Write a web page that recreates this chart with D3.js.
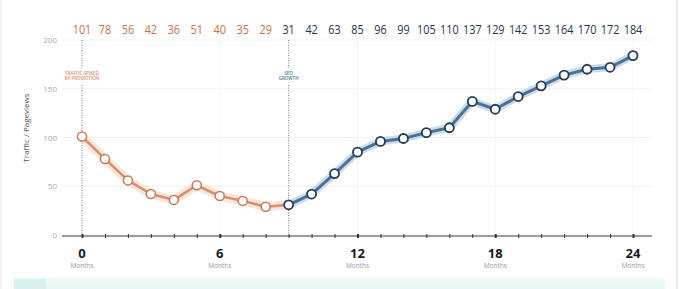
<!DOCTYPE html>
<html>
<head>
<meta charset="utf-8">
<script src="https://cdnjs.cloudflare.com/ajax/libs/d3/7.8.5/d3.min.js"></script>
<style>
  body { margin: 0; background: #fff; }
  svg { display: block; font-family: "Open Sans", "Noto Sans", sans-serif; }
</style>
</head>
<body>
<div id="chart"></div>
<script>
var width = 679,
    height = 289;

// data
var months = d3.range(0, 25);
var traffic = [101, 78, 56, 42, 36, 51, 40, 35, 29, 31, 42, 63, 85, 96, 99, 105, 110, 137, 129, 142, 153, 164, 170, 172, 184];
var splitIndex = 9;
var yTicks = [0, 50, 100, 150, 200];
var xTicks = [0, 6, 12, 18, 24];
var notes = [
    {month: 0, lines: ["TRAFFIC SPIKED", "BY PROMOTION"], color: "#d89070"},
    {month: 9, lines: ["SEO", "GROWTH"], color: "#4a7288"}
];

var orange = "#d3906e",
    orangeDark = "#c47a58",
    blue = "#4f7090",
    navy = "#213c58";

var svg = d3.select("#chart").append("svg")
    .attr("width", width)
    .attr("height", height);

var x = d3.scaleLinear().domain([0, 24]).range([82, 633]);
var y = d3.scaleLinear().domain([0, 200]).range([235, 40]);

// card edges + bottom strip
svg.append("line").attr("x1", 677).attr("x2", 677).attr("y1", 0).attr("y2", height)
    .style("stroke", "#e6e6e6").style("stroke-width", 1.5);
svg.append("line").attr("x1", 1).attr("x2", 1).attr("y1", 0).attr("y2", height)
    .style("stroke", "#f0f0f0").style("stroke-width", 1.5);
var grad = svg.append("defs").append("linearGradient").attr("id", "strip")
    .attr("x1", 0).attr("x2", 0).attr("y1", 0).attr("y2", 1);
grad.append("stop").attr("offset", 0).attr("stop-color", "#f4fcfb");
grad.append("stop").attr("offset", 1).attr("stop-color", "#e3f7f4");
svg.append("rect").attr("x", 14).attr("y", 277).attr("width", 651).attr("height", 12)
    .attr("fill", "url(#strip)");
svg.append("rect").attr("x", 14).attr("y", 279).attr("width", 32).attr("height", 10)
    .attr("fill", "#d9f1ee");

// grid
svg.selectAll(".hgrid").data(yTicks.filter(function(d) { return d > 0; }))
    .enter().append("line")
    .attr("x1", 62).attr("x2", 652)
    .attr("y1", function(d) { return y(d); }).attr("y2", function(d) { return y(d); })
    .style("stroke", "#f0f2f2").style("stroke-width", 1);
svg.selectAll(".vgrid").data(xTicks.filter(function(d) { return d > 0; }))
    .enter().append("line")
    .attr("x1", function(d) { return x(d); }).attr("x2", function(d) { return x(d); })
    .attr("y1", 40).attr("y2", 235)
    .style("stroke", "#f2f4f4").style("stroke-width", 1);

// y tick labels
svg.selectAll(".ylab").data(yTicks)
    .enter().append("text")
    .attr("x", 57).attr("y", function(d) { return y(d) + 3; })
    .attr("text-anchor", "end")
    .style("font-size", "8px").style("fill", "#a9a9a9")
    .text(function(d) { return d; });

svg.append("text")
    .attr("transform", "translate(29," + 128 + ") rotate(-90)")
    .attr("text-anchor", "middle")
    .style("font-size", "8px").style("fill", "#555")
    .text("Traffic / Pageviews");

// annotation dotted lines
notes.forEach(function(n) {
    var cx = x(n.month);
    svg.append("line").attr("x1", cx).attr("x2", cx).attr("y1", 40).attr("y2", 68)
        .style("stroke", "#555").style("stroke-width", 0.8).style("stroke-dasharray", "1,1.5");
    svg.append("line").attr("x1", cx).attr("x2", cx).attr("y1", 85).attr("y2", 236)
        .style("stroke", "#555").style("stroke-width", 0.8).style("stroke-dasharray", "1,1.5");
    n.lines.forEach(function(t, i) {
        svg.append("text").attr("x", cx).attr("y", 75 + i * 5)
            .attr("text-anchor", "middle")
            .style("font-size", "4.5px").style("font-weight", "600")
            .style("fill", n.color)
            .text(t);
    });
});

// x axis
var xAxis = d3.axisBottom(x).tickValues(months).tickSize(3).tickFormat("");
var gx = svg.append("g").attr("transform", "translate(0,236)").call(xAxis);
gx.select(".domain").remove();
gx.selectAll(".tick line").attr("y1", -2).attr("y2", 2)
    .style("stroke", "#333")
    .style("stroke-width", function(d) { return d % 6 === 0 ? 2 : 1; });
svg.insert("line", "g").attr("x1", 62).attr("x2", 652).attr("y1", 236).attr("y2", 236)
    .style("stroke", "#7a7a7a").style("stroke-width", 1.5);

svg.selectAll(".xlab").data(xTicks)
    .enter().append("text")
    .attr("x", function(d) { return x(d); }).attr("y", 258)
    .attr("text-anchor", "middle")
    .style("font-size", "13px").style("font-weight", "bold").style("fill", "#1a1a1a")
    .text(function(d) { return d; });
svg.selectAll(".xsub").data(xTicks)
    .enter().append("text")
    .attr("x", function(d) { return x(d); }).attr("y", 268)
    .attr("text-anchor", "middle")
    .style("font-size", "6.5px").style("fill", "#999")
    .text("Months");

// lines
var line = d3.line()
    .x(function(d) { return x(d.m); })
    .y(function(d) { return y(d.v); });
var pts = traffic.map(function(v, i) { return {m: i, v: v}; });
var first = pts.slice(0, splitIndex + 1),
    second = pts.slice(splitIndex);

svg.append("path").datum(first).attr("d", line)
    .style("fill", "none").style("stroke", "#f8ddcf").style("stroke-width", 9)
    .style("stroke-linejoin", "round").style("stroke-linecap", "round").style("opacity", 0.8);
svg.append("path").datum(second).attr("d", line)
    .style("fill", "none").style("stroke", "#bfd3e6").style("stroke-width", 8)
    .style("stroke-linejoin", "round").style("stroke-linecap", "round").style("opacity", 0.8);
svg.append("path").datum(first).attr("d", line)
    .style("fill", "none").style("stroke", orange).style("stroke-width", 2.5)
    .style("stroke-linejoin", "round");
svg.append("path").datum(second).attr("d", line)
    .style("fill", "none").style("stroke", blue).style("stroke-width", 3)
    .style("stroke-linejoin", "round");

svg.selectAll(".pt").data(pts)
    .enter().append("circle")
    .attr("cx", function(d) { return x(d.m); })
    .attr("cy", function(d) { return y(d.v); })
    .attr("r", 4.5)
    .style("fill", "#fff")
    .style("stroke", function(d) { return d.m < splitIndex ? orangeDark : navy; })
    .style("stroke-width", function(d) { return d.m < splitIndex ? 1.5 : 1.8; });

// top value labels (condensed look via textLength)
svg.selectAll(".val").data(pts)
    .enter().append("text")
    .attr("x", function(d) { return x(d.m); })
    .attr("y", 34)
    .attr("text-anchor", "middle")
    .attr("textLength", function(d) { return String(d.v).length * 6.2; })
    .attr("lengthAdjust", "spacingAndGlyphs")
    .style("font-size", "13.5px")
    .style("fill", function(d) { return d.m < splitIndex ? "#c8714a" : "#1e3450"; })
    .text(function(d) { return d.v; });
</script>
</body>
</html>
